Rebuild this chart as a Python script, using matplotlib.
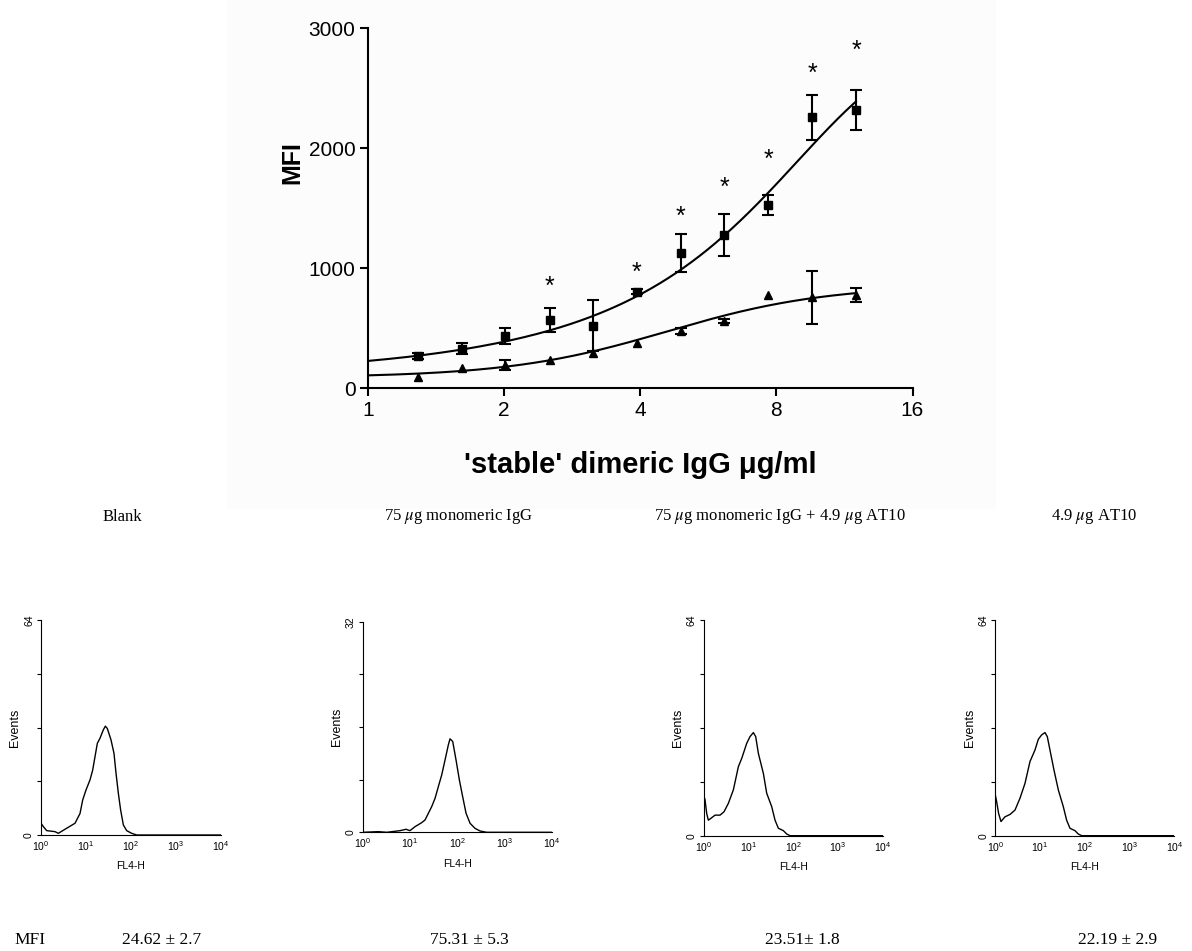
import numpy as np
import matplotlib.pyplot as plt
from matplotlib.patches import Rectangle
from matplotlib.ticker import NullLocator

plt.rcParams['font.family'] = ['Liberation Sans', 'DejaVu Sans']
plt.rcParams['mathtext.fontset'] = 'stix'
plt.rcParams['mathtext.default'] = 'regular'

W, H = 1192, 951

# binding of 'stable' dimeric IgG (squares) vs control (triangles)
dose = [1.29, 1.61, 2.01, 2.52, 3.15, 3.93, 4.92, 6.14, 7.68, 9.6, 12.0]
sq_mean = [269, 328, 436, 569, 522, 805, 1130, 1278, 1528, 2258, 2319]
sq_sd = [25, 46, 70, 97, 215, 20, 157, 177, 80, 190, 165]
tri_mean = [92, 167, 194, 236, 297, 381, 478, 561, 778, 758, 777]
tri_sd = [0, 0, 45, 0, 0, 0, 25, 20, 0, 220, 55]
sig_idx = [3, 5, 6, 7, 8, 9, 10]
star_y = [842, 958, 1430, 1667, 1903, 2619, 2813]

# curve fit parameters
sq_fit = dict(bottom=-411, top=2895, mid=6.0, width=3.5)
tri_fit = dict(bottom=90, top=860, mid=2.2, slope=1.7)

# flow cytometry histograms (FL4-H decade position, events)
blank_log = [0, 0.052, 0.126, 0.311, 0.385, 0.57, 0.756, 0.867, 0.926, 1.0, 1.089, 1.148, 1.2,
             1.252, 1.311, 1.385, 1.43, 1.474, 1.556, 1.622, 1.667, 1.719, 1.77, 1.83, 1.904,
             2.015, 2.126, 4.0]
blank_cnt = [3.5, 2.5, 1.3, 1.0, 0.5, 2.0, 3.5, 6.4, 10.4, 13.4, 16.4, 19.3, 23.3,
             27.3, 28.8, 31.3, 32.4, 31.7, 28.3, 24.3, 18.4, 12.4, 7.4, 3.0, 1.3,
             0.5, 0, 0]
mono_log = [0, 0.33, 0.51, 0.79, 0.917, 1.0, 1.108, 1.249, 1.319, 1.39, 1.46, 1.531, 1.601,
            1.672, 1.743, 1.813, 1.848, 1.905, 1.975, 2.046, 2.116, 2.187, 2.272, 2.377,
            2.483, 2.624, 4.0]
mono_cnt = [0, 0.1, 0, 0.25, 0.46, 0.25, 0.86, 1.47, 1.87, 2.89, 3.9, 5.16, 6.94,
            8.71, 11.0, 13.3, 14.2, 13.8, 11.0, 7.95, 5.4, 2.9, 1.37, 0.6,
            0.2, 0, 0]
mono_at10_log = [0, 0.03, 0.067, 0.104, 0.156, 0.253, 0.365, 0.454, 0.551, 0.663, 0.775, 0.849,
                 0.961, 1.035, 1.11, 1.162, 1.222, 1.333, 1.408, 1.52, 1.594, 1.669, 1.78,
                 1.855, 1.93, 4.0]
mono_at10_cnt = [12.1, 10.6, 6.6, 4.6, 5.1, 6.1, 6.1, 7.1, 9.6, 13.6, 20.5, 22.9,
                 27.4, 29.4, 30.6, 29.4, 24.4, 18.5, 12.6, 8.6, 4.6, 2.2, 1.5,
                 0.5, 0, 0]
at10_log = [0, 0.03, 0.074, 0.127, 0.216, 0.328, 0.44, 0.551, 0.663, 0.775, 0.886, 0.961,
            1.035, 1.11, 1.162, 1.222, 1.311, 1.408, 1.52, 1.594, 1.669, 1.78, 1.855,
            1.93, 4.0]
at10_cnt = [12.1, 10.1, 6.6, 4.2, 5.6, 6.3, 7.6, 11.1, 15.5, 22.0, 25.4, 28.6,
            29.9, 30.6, 29.4, 25.4, 19.5, 13.6, 8.6, 4.6, 2.2, 1.5, 0.5,
            0, 0]

titles = ['Blank', r'75 $\mathit{\mu}$g monomeric IgG',
          r'75 $\mathit{\mu}$g monomeric IgG + 4.9 $\mathit{\mu}$g AT10', r'4.9 $\mathit{\mu}$g AT10']
mfi_text = ['24.62 ± 2.7', '75.31 ± 5.3', '23.51± 1.8', '22.19 ± 2.9']
ymax = [64, 32, 64, 64]


def px_rect(l, t, r, b):
    return [l / W, 1 - b / H, (r - l) / W, (b - t) / H]


fig = plt.figure(figsize=(W / 100, H / 100), dpi=100)
fig.patches.append(Rectangle((227 / W, 1 - 508 / H), (995 - 227) / W, 508 / H,
                             transform=fig.transFigure, color='#fcfcfc', zorder=-5))

# ---- dose response ----
ax = fig.add_axes(px_rect(368, 28.3, 912.5, 388.3))
ax.patch.set_alpha(0)
ax.set_xscale('log', base=2)
ax.set_xlim(1, 16)
ax.set_ylim(0, 3000)
ax.set_xticks([1, 2, 4, 8, 16])
ax.set_xticklabels(['1', '2', '4', '8', '16'])
ax.xaxis.set_minor_locator(NullLocator())
ax.set_yticks([0, 1000, 2000, 3000])
for s in ['top', 'right']:
    ax.spines[s].set_visible(False)
for s in ['left', 'bottom']:
    ax.spines[s].set_linewidth(1.5)
ax.tick_params(width=1.5, length=6, labelsize=15, pad=3)

xs = np.linspace(1, dose[-1], 300)
f = sq_fit
ax.plot(xs, f['bottom'] + (f['top'] - f['bottom']) / (1 + np.exp(-(xs - f['mid']) / f['width'])),
        color='k', lw=1.5)
f = tri_fit
ax.plot(xs, f['bottom'] + (f['top'] - f['bottom']) / (1 + np.exp(-f['slope'] * (np.log2(xs) - f['mid']))),
        color='k', lw=1.5)

ax.errorbar(dose, sq_mean, yerr=sq_sd, fmt='s', color='k', ms=5.5,
            capsize=4, elinewidth=1.5, capthick=1.5)
ax.plot(dose, tri_mean, '^', color='k', ms=5.5)
d_e = [d for d, e in zip(dose, tri_sd) if e > 0]
m_e = [m for m, e in zip(tri_mean, tri_sd) if e > 0]
s_e = [e for e in tri_sd if e > 0]
ax.errorbar(d_e, m_e, yerr=s_e, fmt='none', ecolor='k', capsize=4, elinewidth=1.5, capthick=1.5)

for i, y in zip(sig_idx, star_y):
    ax.text(dose[i], y, '*', ha='center', va='center', fontsize=18)

ax.set_ylabel('MFI', fontsize=18, fontweight='bold')
ax.yaxis.set_label_coords(-0.138, 0.626)
ax.set_xlabel("'stable' dimeric IgG μg/ml", fontsize=21, fontweight='bold')
ax.xaxis.set_label_coords(0.5, -0.213)
ax.xaxis.label.set_va('center')
ax.yaxis.label.set_va('center')

# ---- histograms ----
panels = [(41, 620, 221, 835), (362.7, 621.7, 551.7, 832.3),
          (703.7, 620, 882.7, 835.7), (995.3, 620, 1174.3, 835.7)]
hist_log = [blank_log, mono_log, mono_at10_log, at10_log]
hist_cnt = [blank_cnt, mono_cnt, mono_at10_cnt, at10_cnt]
title_x = [122, 459, 780, 1094]
mfi_x = [162, 469, 802, 1118]

for k in range(4):
    l, t, r, b = panels[k]
    h = fig.add_axes(px_rect(l, t, r, b))
    h.set_xscale('log')
    h.set_xlim(1, 1e4)
    h.set_ylim(0, ymax[k])
    h.plot([10 ** v for v in hist_log[k]], hist_cnt[k], color='k', lw=1.0)
    for s in ['top', 'right']:
        h.spines[s].set_visible(False)
    for s in ['left', 'bottom']:
        h.spines[s].set_linewidth(0.8)
    h.set_xticks([1, 10, 100, 1000, 10000])
    h.set_xticklabels(['$10^{%d}$' % i for i in range(5)])
    h.xaxis.set_minor_locator(NullLocator())
    h.tick_params(axis='x', length=0, labelsize=7.5, pad=3)
    q = ymax[k] // 4
    h.set_yticks([0, q, 2 * q, 3 * q, 4 * q])
    h.set_yticklabels(['0', '', '', '', str(ymax[k])], rotation=90, va='center')
    h.tick_params(axis='y', length=3, width=0.8, labelsize=7.5, pad=2)
    h.set_ylabel('Events', fontsize=9, labelpad=2)
    h.set_xlabel('FL4-H', fontsize=7.5, labelpad=6)

    fig.text(title_x[k] / W, 1 - 517 / H, titles[k], ha='center', va='center',
             fontsize=12, family='Liberation Serif')
    fig.text(mfi_x[k] / W, 1 - 940 / H, mfi_text[k], ha='center', va='center',
             fontsize=12.5, family='Liberation Serif')

fig.text(30 / W, 1 - 940 / H, 'MFI', ha='center', va='center', fontsize=12.5,
         family='Liberation Serif')

fig.savefig('out.png', dpi=100, facecolor='white')
